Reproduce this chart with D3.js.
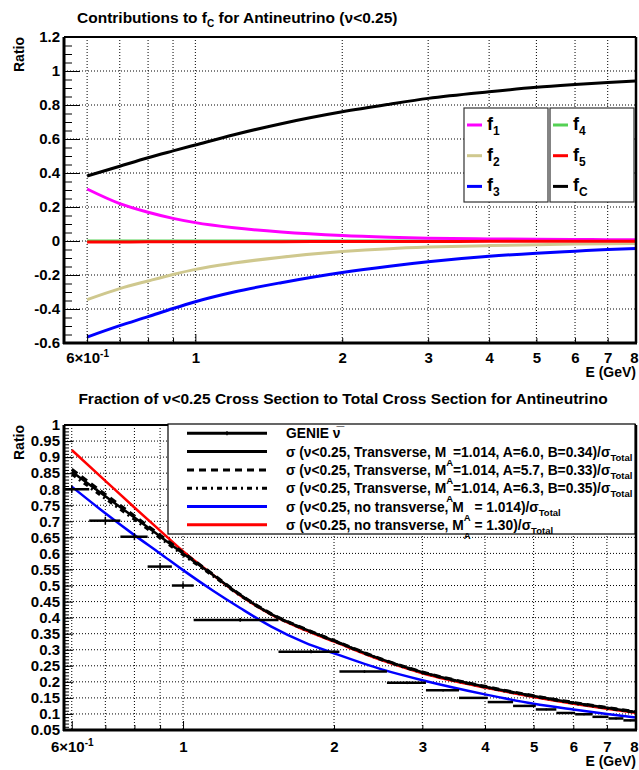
<!DOCTYPE html>
<html><head><meta charset="utf-8">
<script src="https://cdn.jsdelivr.net/npm/d3@7"></script>
<style>
body{margin:0;background:#fff}
svg{display:block}
text{font-family:"Liberation Sans",Arial,Helvetica,sans-serif;font-weight:bold;fill:#000}
</style>
</head><body>
<svg id="c" width="639" height="770"></svg>
<script>
// ---------------- DATA ----------------
// Top panel: contributions to f_C
const topE = [0.6,0.7,0.8,0.9,1.0,1.2,1.5,2,2.5,3,4,5,6,7,8];
const f1 = [0.306,0.22,0.169,0.133,0.108,0.078,0.053,0.032,0.022,0.016,0.012,0.010,0.009,0.008,0.007];
const f2 = [-0.345,-0.28,-0.235,-0.197,-0.167,-0.13,-0.095,-0.062,-0.045,-0.036,-0.027,-0.022,-0.018,-0.016,-0.014];
const f3 = [-0.565,-0.498,-0.445,-0.397,-0.357,-0.30,-0.245,-0.185,-0.148,-0.122,-0.09,-0.072,-0.06,-0.05,-0.044];
const f4 = [0.001,0.001,0.001,0.001,0.001,0.001,0.001,0.001,0.001,0.001,0.001,0.001,0.001,0.001,0.001];
const f5 = [-0.006,-0.006,-0.005,-0.005,-0.005,-0.004,-0.004,-0.003,-0.003,-0.003,-0.002,-0.002,-0.002,-0.001,-0.001];
const fC = [0.382,0.44,0.49,0.53,0.565,0.625,0.69,0.76,0.805,0.839,0.878,0.904,0.92,0.932,0.941];
const topYTicks = [-0.6,-0.4,-0.2,0,0.2,0.4,0.6,0.8,1,1.2];
const topYLabels = ["-0.6","-0.4","-0.2","0","0.2","0.4","0.6","0.8","1","1.2"];

// Bottom panel: fraction of nu<0.25 cross section
const botE = [0.6,0.7,0.8,0.9,1.0,1.15,1.3,1.5,1.75,2,2.5,3,4,5,6,7,8];
const trans60 = [0.855,0.778,0.712,0.653,0.600,0.532,0.471,0.411,0.364,0.328,0.269,0.230,0.185,0.156,0.135,0.119,0.106];
const trans57 = [0.862,0.784,0.717,0.657,0.603,0.534,0.472,0.412,0.365,0.329,0.270,0.231,0.186,0.157,0.136,0.120,0.107];
const trans63 = [0.847,0.771,0.706,0.648,0.596,0.529,0.469,0.410,0.363,0.327,0.268,0.229,0.184,0.155,0.134,0.118,0.105];
const noTrans1014 = [0.808,0.725,0.657,0.600,0.548,0.483,0.430,0.372,0.322,0.289,0.238,0.205,0.161,0.132,0.114,0.100,0.089];
const noTrans130 = [0.922,0.826,0.743,0.671,0.607,0.532,0.469,0.409,0.361,0.325,0.266,0.227,0.182,0.153,0.132,0.116,0.103];
const genieE   = [0.6,0.7,0.8,0.9,1.0,1.3,1.8,2.3,2.8,3.3,3.8,4.3,4.8,5.3,5.8,6.3,6.8,7.3,7.8];
const genieEx  = [0.05,0.05,0.05,0.05,0.05,0.25,0.25,0.25,0.25,0.25,0.25,0.25,0.25,0.25,0.25,0.25,0.25,0.25,0.25];
const genieVal = [0.800,0.702,0.652,0.559,0.500,0.393,0.294,0.232,0.197,0.174,0.150,0.137,0.125,0.114,0.103,0.099,0.091,0.086,0.080];
const genieErr = [0.012,0.012,0.011,0.010,0.010,0.006,0.005,0.004,0.004,0.004,0.003,0.003,0.003,0.003,0.003,0.003,0.003,0.003,0.003];
const botYTicks = [0.05,0.1,0.15,0.2,0.25,0.3,0.35,0.4,0.45,0.5,0.55,0.6,0.65,0.7,0.75,0.8,0.85,0.9,0.95,1];
const botYLabels = ["0.05","0.1","0.15","0.2","0.25","0.3","0.35","0.4","0.45","0.5","0.55","0.6","0.65","0.7","0.75","0.8","0.85","0.9","0.95","1"];

const xTickVals = [0.6,0.7,0.8,0.9,1,2,3,4,5,6,7,8];
const xTickLabels = ["6×10","","","","1","2","3","4","5","6","7","8"];
const xGridVals = [0.6,0.7,0.8,0.9,1,2,3,4,5,6,7];

// ---------------- DRAW ----------------
const svg = d3.select("#c");
const FS = 15;

function grid(g, x, y, yTicks, x0, x1, y0, y1){
  g.append("g").selectAll("line").data(yTicks.filter(v=>Math.abs(y(v)-y0)>1 && Math.abs(y(v)-y1)>1)).join("line")
    .attr("x1",x0).attr("x2",x1).attr("y1",d=>y(d)).attr("y2",d=>y(d))
    .attr("stroke","#000").attr("stroke-width",1).attr("stroke-dasharray","1,2");
  g.append("g").selectAll("line").data(xGridVals).join("line")
    .attr("x1",d=>x(d)).attr("x2",d=>x(d)).attr("y1",y1).attr("y2",y0)
    .attr("stroke","#000").attr("stroke-width",1).attr("stroke-dasharray","1,2");
}

function axes(g, x, y, yTicks, yLabels, yMinor, yMaj, yMin, x0, x1, y0, y1, xLabPad){
  const ya = d3.axisLeft(y).tickValues(yTicks).tickSizeInner(-yMaj).tickSizeOuter(0).tickPadding(5)
      .tickFormat((d,i)=>yLabels[i]);
  const gy = g.append("g").attr("transform",`translate(${x0},0)`).call(ya);
  gy.select(".domain").remove();
  gy.selectAll("line").attr("stroke","#000").attr("stroke-width",1);
  gy.selectAll("text").attr("font-size",FS).attr("font-family",null).attr("x",-4);
  const ym = d3.axisLeft(y).tickValues(yMinor).tickSizeInner(-yMin).tickSizeOuter(0).tickFormat("");
  const gym = g.append("g").attr("transform",`translate(${x0},0)`).call(ym);
  gym.select(".domain").remove();
  gym.selectAll("line").attr("stroke","#000").attr("stroke-width",1);
  const xa = d3.axisBottom(x).tickValues(xTickVals).tickSizeOuter(0).tickSizeInner(-8).tickPadding(xLabPad)
      .tickFormat((d,i)=>xTickLabels[i]);
  const gx = g.append("g").attr("transform",`translate(0,${y0})`).call(xa);
  gx.select(".domain").remove();
  gx.selectAll("line").attr("stroke","#000").attr("stroke-width",1)
    .attr("y2",d=>(d===1||d===0.6)?-9:-5);
  gx.selectAll("text").attr("font-size",FS).attr("font-family",null);
  gx.selectAll("text").filter(d=>d===8).attr("x",-2);
  gx.selectAll("text").filter(d=>d===0.6).each(function(){
    const t=d3.select(this); t.text("");
    t.append("tspan").text("6×10");
    t.append("tspan").attr("font-size",10).attr("dy",-6).text("-1");
  });
  g.append("line").attr("x1",x0).attr("x2",x0).attr("y1",y1).attr("y2",y0+1).attr("stroke","#000").attr("stroke-width",3);
  g.append("line").attr("x1",x0-1).attr("x2",x1+1).attr("y1",y0).attr("y2",y0).attr("stroke","#000").attr("stroke-width",3);
  g.append("line").attr("x1",x0).attr("x2",x1).attr("y1",y1).attr("y2",y1).attr("stroke","#000").attr("stroke-width",2);
  g.append("line").attr("x1",x1).attr("x2",x1).attr("y1",y1).attr("y2",y0).attr("stroke","#000").attr("stroke-width",2.5);
}

function minorVals(lo,hi,step){const a=[];for(let v=lo;v<=hi+1e-9;v+=step)a.push(+v.toFixed(4));return a;}

// ---- TOP PANEL ----
const T = {x0:64,x1:636,y0:343,y1:37};
const xTop = d3.scaleLog().domain([0.538,8]).range([T.x0,T.x1]);
const yTop = d3.scaleLinear().domain([-0.6,1.2]).range([T.y0,T.y1]);
const gT = svg.append("g");
grid(gT,xTop,yTop,topYTicks,T.x0,T.x1,T.y0,T.y1);
svg.append("clipPath").attr("id","clipT").append("rect").attr("x",T.x0).attr("y",T.y1).attr("width",T.x1-T.x0).attr("height",T.y0-T.y1);
const lineTop = d3.line().x((d,i)=>xTop(topE[i])).y(d=>yTop(d)).curve(d3.curveMonotoneX);
const topSeries = [
  {v:f4,c:"#55d155",w:2.5},
  {v:f1,c:"#ff00ff",w:3},
  {v:f2,c:"#cfc88e",w:3},
  {v:f3,c:"#0000ff",w:3},
  {v:f5,c:"#ff0000",w:3},
  {v:fC,c:"#000000",w:3}
];
gT.append("g").attr("clip-path","url(#clipT)").selectAll("path").data(topSeries).join("path")
  .attr("d",d=>lineTop(d.v)).attr("fill","none").attr("stroke",d=>d.c).attr("stroke-width",d=>d.w);
axes(gT,xTop,yTop,topYTicks,topYLabels,minorVals(-0.6,1.2,0.05),16,8,T.x0,T.x1,T.y0,T.y1,9);

const tt = svg.append("text").attr("x",77).attr("y",23).attr("font-size",15.5);
tt.append("tspan").text("Contributions to f");
tt.append("tspan").attr("font-size",10).attr("dy",4).text("C");
tt.append("tspan").attr("dy",-4).text(" for Antineutrino (ν<0.25)");
svg.append("text").attr("transform","translate(24,37) rotate(-90)").attr("text-anchor","end").attr("font-size",14).text("Ratio");
svg.append("text").attr("x",636).attr("y",377).attr("text-anchor","end").attr("font-size",14).text("E (GeV)");

const legTop = [
  [{c:"#ff00ff",s:"1"},{c:"#cfc88e",s:"2"},{c:"#0000ff",s:"3"}],
  [{c:"#55d155",s:"4"},{c:"#ff0000",s:"5"},{c:"#000000",s:"C"}]
];
const boxes=[{x:464,w:84},{x:550,w:84}];
legTop.forEach((col,ci)=>{
  const b=boxes[ci];
  svg.append("rect").attr("x",b.x).attr("y",108).attr("width",b.w).attr("height",94)
    .attr("fill","#fff").attr("stroke","#333").attr("stroke-width",1.2);
  col.forEach((e,ri)=>{
    const yy=125+ri*30.7;
    svg.append("line").attr("x1",b.x+3).attr("x2",b.x+18).attr("y1",yy).attr("y2",yy).attr("stroke",e.c).attr("stroke-width",3);
    const t=svg.append("text").attr("x",b.x+23).attr("y",yy+5).attr("font-size",18);
    t.append("tspan").text("f");
    t.append("tspan").attr("font-size",12).attr("dy",5).text(e.s);
  });
});

// ---- BOTTOM PANEL ----
const B = {x0:64,x1:636,y0:730,y1:425};
const xBot = d3.scaleLog().domain([0.579,8]).range([B.x0,B.x1]);
const yBot = d3.scaleLinear().domain([0.05,1]).range([B.y0,B.y1]);
const gB = svg.append("g");
grid(gB,xBot,yBot,botYTicks,B.x0,B.x1,B.y0,B.y1);
svg.append("clipPath").attr("id","clipB").append("rect").attr("x",B.x0).attr("y",B.y1).attr("width",B.x1-B.x0).attr("height",B.y0-B.y1);
const lineBot = d3.line().x((d,i)=>xBot(botE[i])).y(d=>yBot(d)).curve(d3.curveMonotoneX);
const botSeries = [
  {v:noTrans1014,c:"#0000ff",w:2.5,dash:null},
  {v:noTrans130,c:"#ff0000",w:2.5,dash:null},
  {v:trans60,c:"#000",w:2.5,dash:null},
  {v:trans57,c:"#000",w:3,dash:"7,5"},
  {v:trans63,c:"#000",w:3,dash:"5,4,2,4"}
];
const cB = gB.append("g").attr("clip-path","url(#clipB)");
cB.selectAll("path.s").data(botSeries).join("path").attr("class","s")
  .attr("d",d=>lineBot(d.v)).attr("fill","none").attr("stroke",d=>d.c).attr("stroke-width",d=>d.w)
  .attr("stroke-dasharray",d=>d.dash);
const gen = cB.append("g");
gen.selectAll("line.h").data(genieE).join("line").attr("class","h")
  .attr("x1",(d,i)=>xBot(d-genieEx[i])).attr("x2",(d,i)=>xBot(d+genieEx[i]))
  .attr("y1",(d,i)=>yBot(genieVal[i])).attr("y2",(d,i)=>yBot(genieVal[i]))
  .attr("stroke","#000").attr("stroke-width",2.5);
gen.selectAll("line.v").data(genieE).join("line").attr("class","v")
  .attr("x1",d=>xBot(d)).attr("x2",d=>xBot(d))
  .attr("y1",(d,i)=>yBot(genieVal[i]-genieErr[i])).attr("y2",(d,i)=>yBot(genieVal[i]+genieErr[i]))
  .attr("stroke","#000").attr("stroke-width",1.5);
axes(gB,xBot,yBot,botYTicks,botYLabels,minorVals(0.05,1,0.01),9,5,B.x0,B.x1,B.y0,B.y1,11);

svg.append("text").attr("x",343).attr("y",404).attr("text-anchor","middle").attr("font-size",15.5)
  .text("Fraction of ν<0.25 Cross Section to Total Cross Section for Antineutrino");
svg.append("text").attr("transform","translate(24,425) rotate(-90)").attr("text-anchor","end").attr("font-size",14).text("Ratio");
svg.append("text").attr("x",636).attr("y",766).attr("text-anchor","end").attr("font-size",14).text("E (GeV)");

svg.append("rect").attr("x",168).attr("y",424).attr("width",467).attr("height",110)
  .attr("fill","#fff").attr("stroke","#000").attr("stroke-width",1.2);
const legBot = [
  {c:"#000",dash:null,err:true,segs:[["GENIE ",0],["ν̅",0]]},
  {c:"#000",dash:null,segs:[["σ (ν<0.25, Transverse, M",0],["A",1],["=1.014, A=6.0, B=0.34)/σ",0],["Total",2]]},
  {c:"#000",dash:"7,5",segs:[["σ (ν<0.25, Transverse, M",0],["A",1],["=1.014, A=5.7, B=0.33)/σ",0],["Total",2]]},
  {c:"#000",dash:"5,4,2,4",segs:[["σ (ν<0.25, Transverse, M",0],["A",1],["=1.014, A=6.3, B=0.35)/σ",0],["Total",2]]},
  {c:"#0000ff",dash:null,segs:[["σ (ν<0.25, no transverse, M",0],["A",1],[" = 1.014)/σ",0],["Total",2]]},
  {c:"#ff0000",dash:null,segs:[["σ (ν<0.25, no transverse, M",0],["A",1],[" = 1.30)/σ",0],["Total",2]]}
];
legBot.forEach((e,i)=>{
  const yy = 433.3 + i*18.3;
  svg.append("line").attr("x1",187).attr("x2",267).attr("y1",yy).attr("y2",yy)
    .attr("stroke",e.c).attr("stroke-width",3).attr("stroke-dasharray",e.dash);
  if(e.err) svg.append("line").attr("x1",227).attr("x2",227).attr("y1",yy-2).attr("y2",yy+2).attr("stroke","#000").attr("stroke-width",1.5);
  const t = svg.append("text").attr("x",286).attr("y",yy+5).attr("font-size",13.8);
  let cur=0;
  e.segs.forEach(([s,k])=>{
    const target = k===1?9:(k===2?4:0);
    const ts = t.append("tspan").attr("dy",target-cur).text(s);
    if(k) ts.attr("font-size",9.5);
    cur=target;
  });
});
</script>
</body></html>
